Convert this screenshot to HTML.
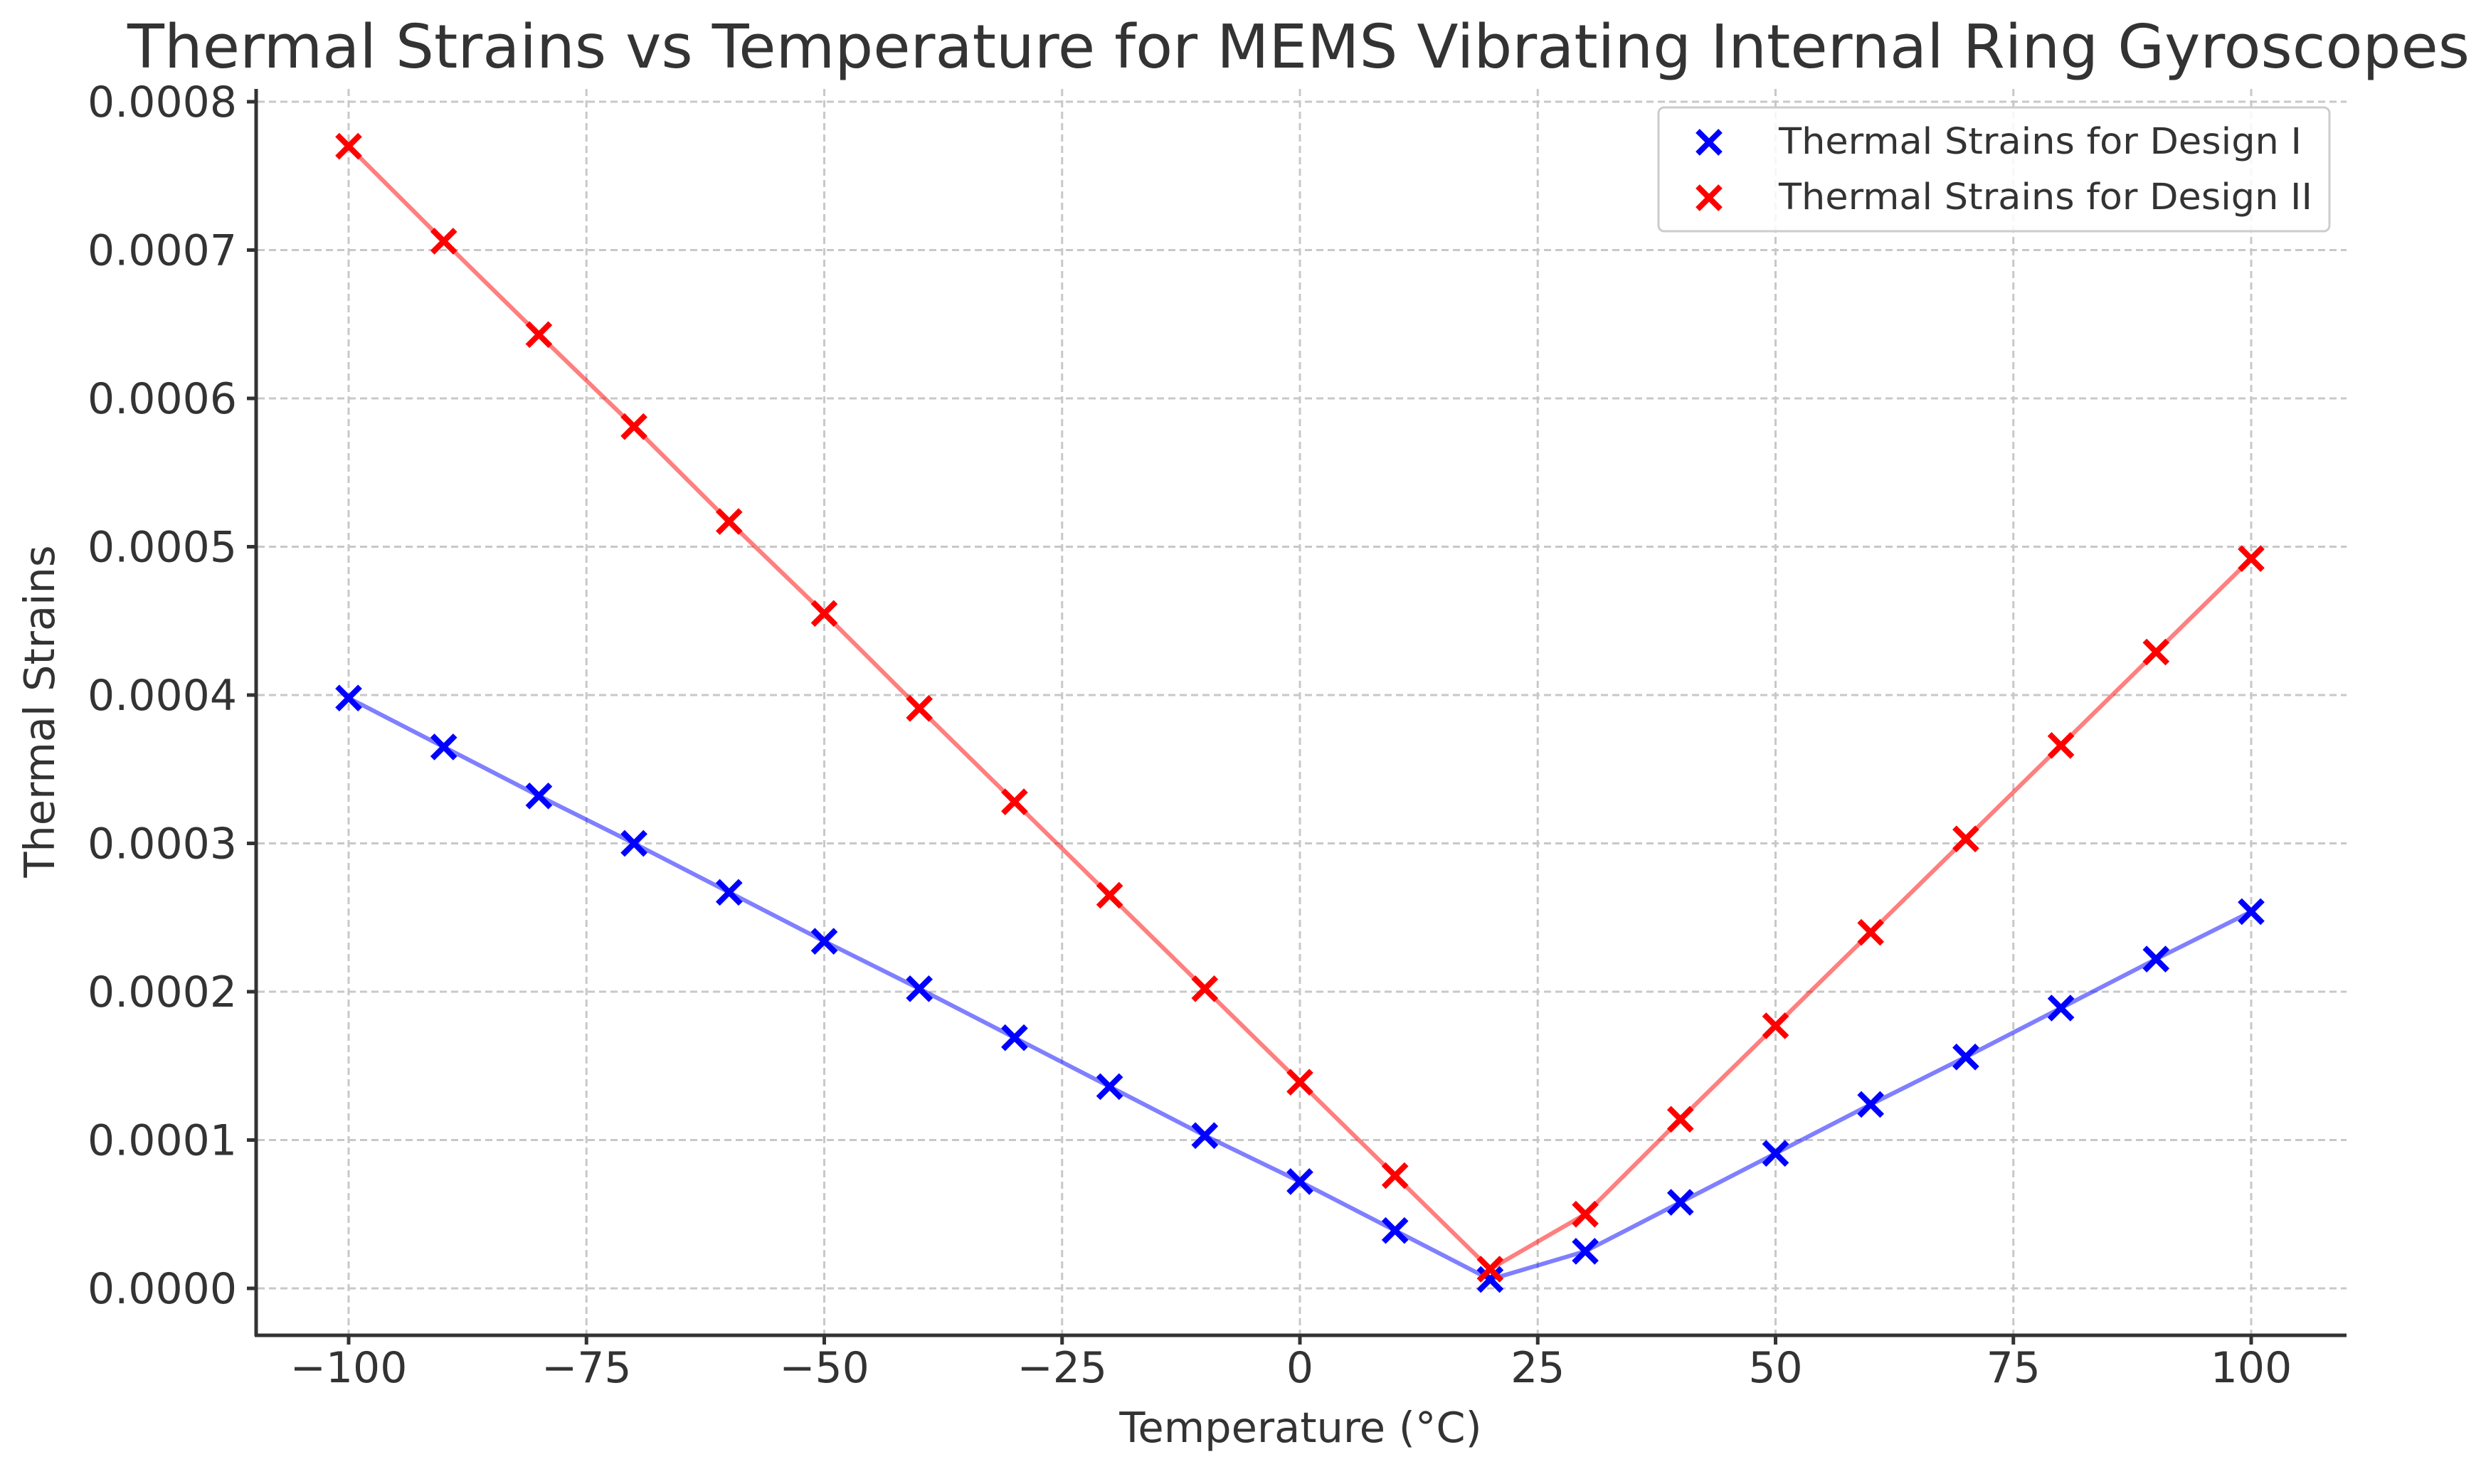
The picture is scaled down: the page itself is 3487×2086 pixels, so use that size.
<!DOCTYPE html>
<html><head><meta charset="utf-8"><style>
html,body{margin:0;padding:0;background:#fff;}
svg{display:block;font-family:"DejaVu Sans","Liberation Sans",sans-serif;}
</style></head><body>
<svg id="chart" width="3487" height="2086" viewBox="0 0 3487 2086" xmlns="http://www.w3.org/2000/svg">
<rect width="3487" height="2086" fill="#fff"/>
<text x="1825" y="95" font-size="85" fill="#333" text-anchor="middle">Thermal Strains vs Temperature for MEMS Vibrating Internal Ring Gyroscopes</text>
<g id="grid"></g>
<g id="yticks"></g>
<g id="xticks"></g>
<g id="series"></g>
<line x1="360" y1="125" x2="360" y2="1878" stroke="#333" stroke-width="5"/>
<line x1="358" y1="1877" x2="3298" y2="1877" stroke="#333" stroke-width="5"/>
<text x="1828" y="2027" font-size="59" fill="#333" text-anchor="middle">Temperature (°C)</text>
<text x="0" y="0" font-size="59" fill="#333" text-anchor="middle" transform="translate(76,1000) rotate(-90)">Thermal Strains</text>
<g>
<rect x="2331" y="151" width="943" height="174" rx="8" fill="#fff" fill-opacity="0.85" stroke="#ccc" stroke-width="3"/>
<g id="legmarks"></g>
<text x="2500" y="216" font-size="51" fill="#333" textLength="735" lengthAdjust="spacingAndGlyphs">Thermal Strains for Design I</text>
<text x="2500" y="294" font-size="51" fill="#333" textLength="750" lengthAdjust="spacingAndGlyphs">Thermal Strains for Design II</text>
</g>
</svg>
<script>
const temps = [-100,-90,-80,-70,-60,-50,-40,-30,-20,-10,0,10,20,30,40,50,60,70,80,90,100];
const design1 = [0.000398,0.000365,0.000332,0.000300,0.000267,0.000234,0.000202,0.000169,0.000136,0.000103,0.000072,0.000039,0.000006,0.000025,0.000058,0.000091,0.000124,0.000156,0.000189,0.000222,0.000254];
const design2 = [0.000770,0.000706,0.000643,0.000581,0.000517,0.000455,0.000391,0.000328,0.000265,0.000202,0.000139,0.000076,0.000013,0.000050,0.000114,0.000177,0.000240,0.000303,0.000366,0.000429,0.000492];
const xTickVals = [-100,-75,-50,-25,0,25,50,75,100];
const xTickLabels = ["\u2212100","\u221275","\u221250","\u221225","0","25","50","75","100"];
const yTickVals = [0,0.0001,0.0002,0.0003,0.0004,0.0005,0.0006,0.0007,0.0008];
const yTickLabels = ["0.0000","0.0001","0.0002","0.0003","0.0004","0.0005","0.0006","0.0007","0.0008"];

const NS = "http://www.w3.org/2000/svg";
function xs(t){ return 490 + (t + 100) * 13.37; }
function ys(v){ return 1811 - v * 2.085e6; }
function mk(tag, attrs, parent){
  const e = document.createElementNS(NS, tag);
  for (const k in attrs) e.setAttribute(k, attrs[k]);
  parent.appendChild(e); return e;
}
const grid = document.getElementById('grid');
const yt = document.getElementById('yticks');
const xt = document.getElementById('xticks');
yTickVals.forEach((v,i)=>{
  const y = ys(v);
  const g = mk('line',{x1:362,y1:y,x2:3298,y2:y,stroke:'#c8c8c8','stroke-width':3,'stroke-dasharray':'10,6'},grid);
  
  
  const tk = mk('line',{x1:347,y1:y,x2:360,y2:y,stroke:'#333','stroke-width':5},yt);
  
  
  const tx = mk('text',{x:333,y:y+21,'font-size':60,fill:'#333','text-anchor':'end'},yt);
  tx.textContent = yTickLabels[i];
  
  
});
xTickVals.forEach((t,i)=>{
  const x = xs(t);
  const g = mk('line',{x1:x,y1:125,x2:x,y2:1875,stroke:'#c8c8c8','stroke-width':3,'stroke-dasharray':'10,6'},grid);
  
  
  const tk = mk('line',{x1:x,y1:1877,x2:x,y2:1890,stroke:'#333','stroke-width':5},xt);
  
  
  const tx = mk('text',{x:x,y:1943,'font-size':60,fill:'#333','text-anchor':'middle'},xt);
  tx.textContent = xTickLabels[i];
  
  
});
const ser = document.getElementById('series');
function drawX(parent, cx, cy, color){
  const s = 16;
  return mk('path',{d:`M${cx-s},${cy-s}L${cx+s},${cy+s}M${cx-s},${cy+s}L${cx+s},${cy-s}`,stroke:color,'stroke-width':8,fill:'none'},parent);
}
[[design1,'#0000ff','design-1'],[design2,'#ff0000','design-2']].forEach(([vals,color,name])=>{
  const pts = temps.map((t,i)=>xs(t)+','+ys(vals[i])).join(' ');
  const pl = mk('polyline',{points:pts,fill:'none',stroke:color,'stroke-opacity':0.5,'stroke-width':6},ser);
  
  
});
[[design1,'#0000ff','design-1'],[design2,'#ff0000','design-2']].forEach(([vals,color,name])=>{
  temps.forEach((t,i)=>{
    const m = drawX(ser, xs(t), ys(vals[i]), color);
    
    
  });
});
const lm = document.getElementById('legmarks');
const l1 = drawX(lm, 2402, 200, '#0000ff');


const l2 = drawX(lm, 2402, 278, '#ff0000');


</script>
</body></html>
